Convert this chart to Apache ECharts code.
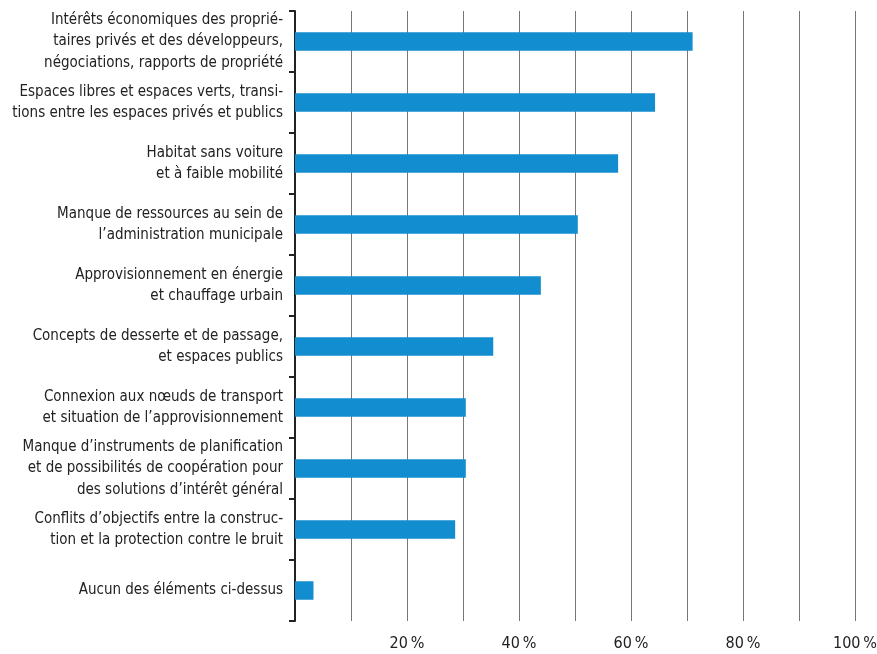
<!DOCTYPE html>
<html>
<head>
<meta charset="utf-8">
<script src="https://cdn.jsdelivr.net/npm/echarts@6/dist/echarts.min.js"></script>
<style>
html,body{margin:0;padding:0;background:#fff;}
#chart{width:877px;height:654px;}
</style>
</head>
<body>
<div id="chart"></div>
<script>
const categories = [
  "Intérêts économiques des proprié-\ntaires privés et des développeurs,\nnégociations, rapports de propriété",
  "Espaces libres et espaces verts, transi-\ntions entre les espaces privés et publics",
  "Habitat sans voiture\net à faible mobilité",
  "Manque de ressources au sein de\nl’administration municipale",
  "Approvisionnement en énergie\net chauffage urbain",
  "Concepts de desserte et de passage,\net espaces publics",
  "Connexion aux nœuds de transport\net situation de l’approvisionnement",
  "Manque d’instruments de planification\net de possibilités de coopération pour\ndes solutions d’intérêt général",
  "Conflits d’objectifs entre la construc-\ntion et la protection contre le bruit",
  "Aucun des éléments ci-dessus"
];
const values = [71.0, 64.3, 57.7, 50.5, 43.9, 35.4, 30.5, 30.5, 28.6, 3.3];
const tickLabels = ["20\u2009%", "40\u2009%", "60\u2009%", "80\u2009%", "100\u2009%"];

const FONT = '"DejaVu Sans Condensed", "Liberation Sans Narrow", sans-serif';
const chart = echarts.init(document.getElementById('chart'), null, {renderer: 'canvas'});
chart.setOption({
  animation: false,
  backgroundColor: '#ffffff',
  grid: {left: 295, right: 22, top: 11, bottom: 33, containLabel: false, outerBoundsMode: 'none'},
  xAxis: {
    type: 'value',
    min: 0, max: 100, interval: 10,
    axisLine: {show: false},
    axisTick: {show: false},
    splitLine: {show: true, lineStyle: {color: '#777', width: 1}},
    axisLabel: {
      margin: 15,
      color: '#222',
      fontFamily: FONT,
      fontSize: 16,
      formatter: function (v) {
        if (v > 0 && v % 20 === 0) return tickLabels[v / 20 - 1];
        return '';
      }
    }
  },
  yAxis: {
    type: 'category',
    data: categories,
    inverse: true,
    axisLine: {show: true, lineStyle: {color: '#222', width: 2}},
    axisTick: {show: true, length: 6, lineStyle: {color: '#222', width: 2}},
    splitLine: {show: false},
    axisLabel: {
      margin: 12,
      color: '#222',
      fontFamily: FONT,
      fontSize: 15,
      lineHeight: 21.5,
      align: 'right'
    }
  },
  series: [{
    type: 'bar',
    data: values,
    barWidth: 18.5,
    itemStyle: {color: '#128dcf'},
    silent: true
  }]
});
</script>
</body>
</html>
